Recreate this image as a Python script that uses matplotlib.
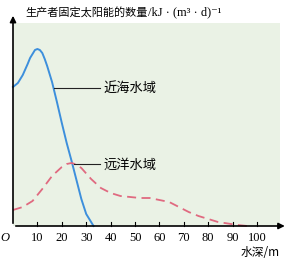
import matplotlib as mpl
mpl.use('Agg')
import matplotlib.pyplot as plt

# depth (m) and relative energy
near_depth = [0, 2, 4, 6, 7, 8, 9, 10, 11, 12, 13, 14, 16, 18, 20, 22, 24, 26, 28, 30, 32, 33]
near_val = [139, 143, 151, 162, 168, 172, 176, 177, 176, 173, 167, 160, 144, 124, 103, 83, 65, 46, 27, 12, 4, 0]

far_depth = [0, 4, 8, 12, 16, 20, 22, 24, 26, 28, 32, 36, 40, 44, 48, 52, 56, 60, 64, 68, 72, 76, 80, 84, 88, 92, 96]
far_val = [16, 19, 25, 37, 50, 59, 62, 63, 61.5, 58, 47, 38, 33, 30, 29, 28, 28, 26, 24, 19, 14, 10, 7, 4, 2.5, 1, 0]

xticks = [10, 20, 30, 40, 50, 60, 70, 80, 90, 100]

cjk = ['Noto Sans CJK SC', 'DejaVu Sans']
serif = ['Liberation Serif', 'DejaVu Serif']
blue = '#3d8fdc'
red = '#e06a80'

fig = plt.figure(figsize=(2.91, 2.66), dpi=100)
ax = fig.add_axes([13/291, 40/266, 267/291, 203/266])
ax.set_facecolor('#eaf2e5')
ax.set_xlim(0, 109.4)
ax.set_ylim(0, 203)
for s in ax.spines.values():
    s.set_visible(False)
ax.set_xticks([])
ax.set_yticks([])

# axes with arrows
ax.annotate('', xy=(112.5, 0), xytext=(0, 0), annotation_clip=False,
            arrowprops=dict(arrowstyle='-|>', color='black', lw=1.2, mutation_scale=9))
ax.annotate('', xy=(0, 213), xytext=(0, 0), annotation_clip=False,
            arrowprops=dict(arrowstyle='-|>', color='black', lw=1.2, mutation_scale=9))

for t in xticks:
    ax.plot([t, t], [0, 4], color='black', lw=0.8, clip_on=False)
    ax.text(t, -6, str(t), ha='center', va='top', fontsize=9, family=serif)
ax.text(-3.5, -6, 'O', ha='center', va='top', fontsize=9, family=serif, style='italic')

ax.plot(near_depth, near_val, color=blue, lw=1.4, clip_on=False)
ax.plot(far_depth, far_val, color=red, lw=1.3, dashes=(5, 3), clip_on=False)

# leader lines and labels
ax.plot([16.8, 35.7], [138, 138], color='#222222', lw=0.8)
ax.text(36.9, 138, '近海水域', ha='left', va='center', fontsize=9.5, family=cjk)
ax.plot([25, 35.7], [62, 62], color='#222222', lw=0.8)
ax.text(36.9, 61, '远洋水域', ha='left', va='center', fontsize=9.5, family=cjk)

# title: chinese part + unit part in serif
t1 = fig.text(25/291, 1 - 12/266, '生产者固定太阳能的数量', ha='left', va='center',
              fontsize=8, family=cjk)
r = fig.canvas.get_renderer()
bb = t1.get_window_extent(r)
fig.text(bb.x1/291 + 1/291, 1 - 12/266, '/kJ · (m³ · d)⁻¹', ha='left', va='center',
         fontsize=9, family=serif)
fig.text(280/291, 1 - 253/266, '水深/m', ha='right', va='center', fontsize=8.5, family=cjk)

fig.savefig('out.png', dpi=100)
